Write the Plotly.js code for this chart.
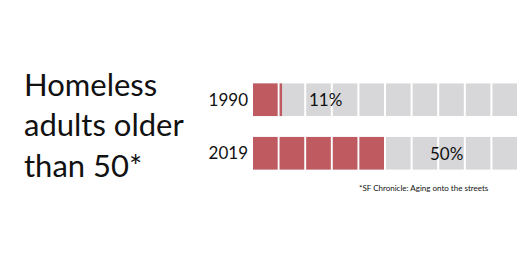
<!DOCTYPE html>
<html>
<head>
<meta charset="utf-8">
<script src="https://cdn.plot.ly/plotly-3.0.1.min.js"></script>
<style>html,body{margin:0;padding:0;background:#fff;}#chart{width:526px;height:263px;}</style>
</head>
<body>
<div id="chart"></div>
<script>
// ---- data ----
const years = ['1990', '2019'];
const percentOver50 = [11, 50];
const headline = ['Homeless', 'adults older', 'than 50*'];
const sourceNote = '*SF Chronicle: Aging onto the streets';

// ---- style ----
const FONT = 'Lato, "Open Sans", sans-serif';
const RED = '#c05a61';
const GRAY = '#d7d7d9';
const BLOCKS = 10;           // each block = 10%
const GAP = 0.075;           // fraction of a block left white
const BAR_W = 0.61;
const LABEL_X = [2.71, 7.27];

const grayY = [], grayX = [], grayBase = [];
const redY = [], redX = [], redBase = [];
years.forEach((yr, i) => {
  const filledBlocks = percentOver50[i] / (100 / BLOCKS);
  for (let k = 0; k < BLOCKS; k++) {
    grayY.push(yr); grayX.push(1 - GAP); grayBase.push(k);
    const f = Math.max(0, Math.min(1, filledBlocks - k));
    if (f > 0) { redY.push(yr); redX.push(f * (1 - GAP)); redBase.push(k); }
  }
});

const traces = [
  {type: 'bar', orientation: 'h', y: grayY, x: grayX, base: grayBase, width: BAR_W,
   marker: {color: GRAY, line: {width: 0}}, hoverinfo: 'skip', showlegend: false},
  {type: 'bar', orientation: 'h', y: redY, x: redX, base: redBase, width: BAR_W,
   marker: {color: RED, line: {width: 0}}, hoverinfo: 'skip', showlegend: false}
];

const annotations = years.map((yr, i) => ({
  x: LABEL_X[i], y: i, xref: 'x', yref: 'y', text: percentOver50[i] + '%',
  showarrow: false, xanchor: 'center', yanchor: 'middle',
  font: {family: FONT, size: 17, color: '#111'}
}));
annotations.push({
  xref: 'paper', yref: 'paper', x: 0, y: 0.5, xshift: -231, yshift: 2,
  xanchor: 'left', yanchor: 'middle', align: 'left', showarrow: false,
  text: headline.join('<br>'),
  font: {family: FONT, size: 31, color: '#111'}
});
annotations.push({
  xref: 'paper', yref: 'paper', x: 0, y: 0, xshift: 104, yshift: -8,
  xanchor: 'left', yanchor: 'middle', showarrow: false,
  text: sourceNote,
  font: {family: FONT, size: 8, color: '#111'}
});

const layout = {
  width: 526, height: 263,
  margin: {l: 253, r: 7, t: 73, b: 83, pad: 0},
  paper_bgcolor: '#fff', plot_bgcolor: '#fff',
  barmode: 'overlay',
  showlegend: false,
  xaxis: {range: [0, BLOCKS], showgrid: false, zeroline: false, showticklabels: false, ticks: '', showline: false, fixedrange: true},
  yaxis: {type: 'category', categoryarray: years, categoryorder: 'array', range: [1.5, -0.5],
          showgrid: false, zeroline: false, showline: false, ticks: '', ticklabelstandoff: 4,
          tickfont: {family: FONT, size: 17, color: '#111'}, fixedrange: true},
  annotations: annotations,
  font: {family: FONT}
};

Plotly.newPlot('chart', traces, layout, {staticPlot: true, displayModeBar: false});
</script>
</body>
</html>
